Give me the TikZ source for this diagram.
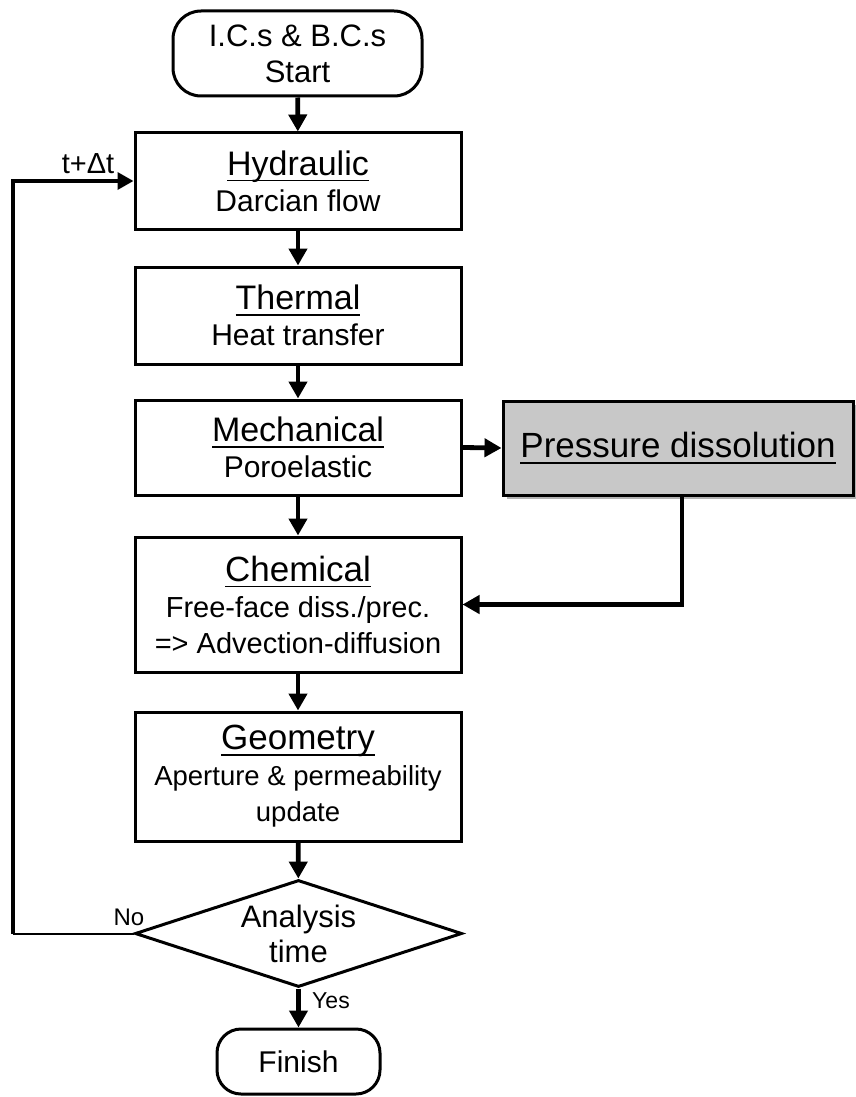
\documentclass[tikz,border=0pt]{standalone}
\usepackage{fontspec}
\setmainfont{Liberation Sans}
\usetikzlibrary{arrows.meta,shapes.geometric,shadows}
\newcommand{\myul}[1]{\setbox0\hbox{#1}\leavevmode\rlap{\copy0}\lower4.5pt\hbox{\vrule width\wd0 height 0pt depth 1.8pt}}
\newcommand{\fsz}[1]{\fontsize{#1}{36}\selectfont}
\tikzset{
  procbox/.style={draw=black, line width=3pt, fill=white, inner sep=0pt, align=center,
    minimum width=326pt, font=\fsz{30}},
  termbox/.style={draw=black, line width=3pt, fill=white, inner sep=0pt, align=center,
    rounded corners=28pt, font=\fsz{31}},
  pdbox/.style={draw=black, line width=3pt, fill={rgb,255:red,200;green,200;blue,200}, inner sep=0pt,
    drop shadow={shadow xshift=4pt, shadow yshift=-4pt, opacity=0.3, fill=black}},
  arr/.style={line width=4.8pt, -{Triangle[length=17pt,width=18pt]}},
  loopline/.style={line width=3.5pt},
  lbl/.style={inner sep=0pt}
}
\begin{document}
\begin{tikzpicture}[x=1pt,y=-1pt]
\fill[white] (0,0) rectangle (856,1097);
\useasboundingbox (0,0) rectangle (856,1097);

\node[termbox, minimum width=249pt, minimum height=85pt] (start) at (297.5,53.5)
  {I.C.s \& B.C.s\\Start};
\node[procbox, minimum height=96pt] (hyd) at (298,181)
  {{\fsz{34}\myul{Hydraulic}}\\Darcian flow};
\node[procbox, minimum height=97pt] (therm) at (298,315.5)
  {{\fsz{34}\myul{Thermal}}\\Heat transfer};
\node[procbox, minimum height=95pt] (mech) at (298,447.5)
  {{\fsz{34}\myul{Mechanical}}\\Poroelastic};
\node[pdbox, minimum width=350pt, minimum height=94pt, font=\fsz{35}] (pd) at (678,448)
  {\myul{Pressure dissolution}};
\node[procbox, minimum height=135pt, font=\fsz{29}] (chem) at (298,604.5)
  {{\fsz{35}\myul{Chemical}}\\Free-face diss./prec.\\=> Advection-diffusion};
\node[procbox, minimum height=129pt, font=\fsz{27.5}] (geom) at (298,776.5)
  {{\fsz{35}\myul{Geometry}}\\Aperture \& permeability\\update};
\node[diamond, draw=black, line width=3pt, fill=white, inner sep=0pt,
  minimum width=327pt, minimum height=107pt,
  label={[lbl, align=center, font=\fontsize{31}{35}\selectfont]center:Analysis\\time}] (dec) at (298.5,933.5) {};
\node[termbox, minimum width=163pt, minimum height=65pt, rounded corners=24pt, font=\fsz{30}] (fin) at (298.5,1061.5)
  {Finish};

\coordinate (c1) at (13,933.5);
\coordinate (c2) at (13,181);

\draw[arr] (start) -- (hyd);
\draw[arr] (hyd) -- (therm);
\draw[arr] (therm) -- (mech);
\draw[arr] (mech) -- (chem);
\draw[arr] (chem) -- (geom);
\draw[arr] (geom) -- (dec);
\draw[arr] (dec) -- (fin);
\draw[arr] (mech.east) -- (pd.west);
\draw[arr] ([xshift=4pt]pd.south) |- (chem.east);
\draw[line width=2pt] (dec.west) -- (c1);
\draw[loopline, -{Triangle[length=16pt,width=17pt]}] (c1) -- (c2) -- (hyd.west);

\node[lbl, font=\fontsize{29}{32}\selectfont] (dt) at (88,164) {t+Δt};
\node[lbl, font=\fontsize{24}{28}\selectfont] (no) at (129,917) {No};
\node[lbl, font=\fontsize{23}{26}\selectfont] (yes) at (331,1001) {Yes};
\end{tikzpicture}
\end{document}
